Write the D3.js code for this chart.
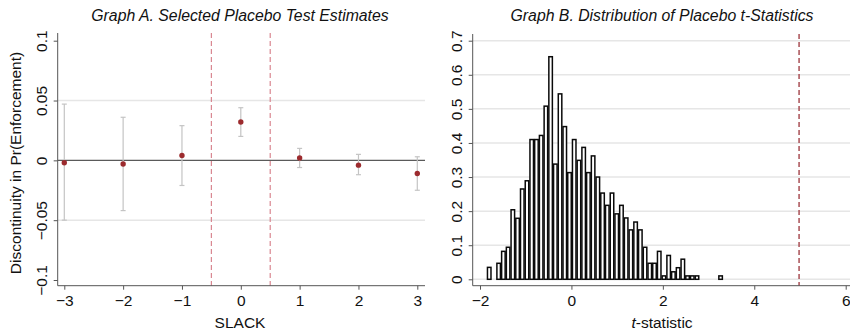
<!DOCTYPE html>
<html><head><meta charset="utf-8">
<script src="https://cdn.jsdelivr.net/npm/d3@7"></script>
<style>
body{margin:0;background:#fff;}
svg{display:block;font-family:"Liberation Sans",Arial,Helvetica,sans-serif;}
</style></head>
<body><svg id="c" width="850" height="331"></svg>
<script>
// ---- Graph A data ----
const slack = [-3, -2, -1, 0, 1, 2, 3];
const estimate = [-0.002, -0.003, 0.004, 0.032, 0.002, -0.004, -0.011];
const ciLow = [-0.050, -0.042, -0.021, 0.020, -0.006, -0.012, -0.025];
const ciHigh = [0.047, 0.036, 0.029, 0.044, 0.010, 0.005, 0.003];
const aXTicks = [-3, -2, -1, 0, 1, 2, 3];
const aYTicks = [-0.1, -0.05, 0, 0.05, 0.1];
const aYTickLabels = ["\u22120.1", "\u22120.05", "0", "0.05", "0.1"];
const aCutoffs = [-0.5, 0.5];

// ---- Graph B data ----
const binStart = -1.85;
const binWidth = 0.1033;
const density = [0.035, 0, 0.047, 0.082, 0.094, 0.204, 0.179, 0.265, 0.289, 0.41, 0.41, 0.422,
  0.508, 0.653, 0.338, 0.544, 0.448, 0.313, 0.41, 0.349, 0.387, 0.313, 0.362, 0.30,
  0.253, 0.217, 0.253, 0.192, 0.217, 0.18, 0.145, 0.168, 0.145, 0.094, 0.047, 0.047,
  0.082, 0.01, 0.07, 0.022, 0.034, 0.059, 0.01, 0.01, 0.01, 0, 0, 0, 0, 0.01];
const bXTicks = [-2, 0, 2, 4, 6];
const bYTicks = [0, 0.1, 0.2, 0.3, 0.4, 0.5, 0.6, 0.7];
const actualT = 4.98;

const fmtMinus = v => String(v).replace("-", "\u2212");
const svg = d3.select("#c");
const FS = 15.5;
const TFS = 15.8;

// ================= Graph A =================
const ax = d3.scaleLinear().domain([-3, 3]).range([64.3, 417.3]);
const ay = d3.scaleLinear().domain([-0.1, 0.1]).range([280, 40.7]);
const gA = svg.append("g");
const aLeft = 57.7, aBottom = 285.7, aTop = 33, aRight = 425;

gA.selectAll(".grid").data([-0.05, 0.05]).join("line")
  .attr("x1", aLeft).attr("x2", aRight).attr("y1", d => ay(d)).attr("y2", d => ay(d))
  .attr("stroke", "#e6e6e6").attr("stroke-width", 1.5);
gA.append("line").attr("x1", aLeft).attr("x2", aRight).attr("y1", ay(0)).attr("y2", ay(0))
  .attr("stroke", "#5a5a5a").attr("stroke-width", 1.2);
gA.selectAll(".cut").data(aCutoffs).join("line")
  .attr("x1", d => ax(d)).attr("x2", d => ax(d)).attr("y1", aTop).attr("y2", aBottom)
  .attr("stroke", "#d98791").attr("stroke-width", 1.2).attr("stroke-dasharray", "5,3");
const eb = gA.selectAll(".eb").data(slack.map((s, i) => ({s, lo: ciLow[i], hi: ciHigh[i], e: estimate[i]}))).join("g");
eb.append("line").attr("x1", d => ax(d.s)).attr("x2", d => ax(d.s))
  .attr("y1", d => ay(d.lo)).attr("y2", d => ay(d.hi)).attr("stroke", "#c4c4c4").attr("stroke-width", 1.2);
eb.append("line").attr("x1", d => ax(d.s) - 2.5).attr("x2", d => ax(d.s) + 2.5)
  .attr("y1", d => ay(d.lo)).attr("y2", d => ay(d.lo)).attr("stroke", "#c4c4c4").attr("stroke-width", 1.2);
eb.append("line").attr("x1", d => ax(d.s) - 2.5).attr("x2", d => ax(d.s) + 2.5)
  .attr("y1", d => ay(d.hi)).attr("y2", d => ay(d.hi)).attr("stroke", "#c4c4c4").attr("stroke-width", 1.2);
eb.append("circle").attr("cx", d => ax(d.s)).attr("cy", d => ay(d.e)).attr("r", 2.7).attr("fill", "#9c2b2e");

const xAxisA = d3.axisBottom(ax).tickValues(aXTicks).tickSize(4).tickPadding(5).tickFormat(fmtMinus);
const gxa = gA.append("g").attr("transform", `translate(0,${aBottom})`).call(xAxisA);
gxa.select(".domain").remove();
gxa.append("line").attr("x1", aLeft).attr("x2", aRight).attr("stroke", "#555");
const yAxisA = d3.axisLeft(ay).tickValues(aYTicks).tickSize(4).tickFormat((d, i) => aYTickLabels[i]);
const gya = gA.append("g").attr("transform", `translate(${aLeft},0)`).call(yAxisA);
gya.select(".domain").remove();
gya.append("line").attr("y1", aTop).attr("y2", aBottom).attr("stroke", "#555");
gya.selectAll(".tick text").attr("x", null).attr("dy", null)
  .attr("transform", "translate(-10.5,0) rotate(-90)").attr("text-anchor", "middle");

// ================= Graph B =================
const bx = d3.scaleLinear().domain([-2, 6]).range([480, 845.7]);
const by = d3.scaleLinear().domain([0, 0.7]).range([279.3, 40.7]);
const gB = svg.append("g");
const bLeft = 472.7, bBottom = 285.7, bTop = 34, bRight = 850;

gB.selectAll(".grid").data(bYTicks).join("line")
  .attr("x1", bLeft).attr("x2", bRight).attr("y1", d => by(d)).attr("y2", d => by(d))
  .attr("stroke", "#e6e6e6").attr("stroke-width", 1.5);

const bins = density.map((h, i) => ({x0: binStart + i * binWidth, x1: binStart + (i + 1) * binWidth, h}))
  .filter(d => d.h > 0);
gB.selectAll(".bar").data(bins).join("rect")
  .attr("x", d => bx(d.x0) + 0.6).attr("width", d => bx(d.x1) - bx(d.x0) - 1.2)
  .attr("y", d => by(d.h)).attr("height", d => by(0) - by(d.h))
  .attr("fill", "#fff").attr("stroke", "#0a0a0a").attr("stroke-width", 1.5);

gB.append("line").attr("x1", bx(actualT)).attr("x2", bx(actualT)).attr("y1", bTop).attr("y2", bBottom)
  .attr("stroke", "#a94f55").attr("stroke-width", 1.5).attr("stroke-dasharray", "5,3");

const xAxisB = d3.axisBottom(bx).tickValues(bXTicks).tickSize(4).tickPadding(5).tickFormat(fmtMinus);
const gxb = gB.append("g").attr("transform", `translate(0,${bBottom})`).call(xAxisB);
gxb.select(".domain").remove();
gxb.append("line").attr("x1", bLeft).attr("x2", bRight).attr("stroke", "#555");
const yAxisB = d3.axisLeft(by).tickValues(bYTicks).tickSize(4).tickFormat(d => String(d));
const gyb = gB.append("g").attr("transform", `translate(${bLeft},0)`).call(yAxisB);
gyb.select(".domain").remove();
gyb.append("line").attr("y1", bTop).attr("y2", bBottom).attr("stroke", "#555");
gyb.selectAll(".tick text").attr("x", null).attr("dy", null)
  .attr("transform", "translate(-10.5,0) rotate(-90)").attr("text-anchor", "middle");

svg.selectAll(".tick line").attr("stroke", "#555");
svg.selectAll(".tick text").attr("font-size", FS).attr("fill", "#111")
  .attr("font-family", "'Liberation Sans',Arial,sans-serif");

svg.append("text").attr("x", 240).attr("y", 20.5).attr("text-anchor", "middle")
  .attr("font-size", TFS).attr("font-style", "italic").attr("fill", "#111")
  .text("Graph A. Selected Placebo Test Estimates");
svg.append("text").attr("x", 662).attr("y", 20.5).attr("text-anchor", "middle")
  .attr("font-size", TFS).attr("font-style", "italic").attr("fill", "#111")
  .text("Graph B. Distribution of Placebo t-Statistics");
svg.append("text").attr("x", 240).attr("y", 327.5).attr("text-anchor", "middle")
  .attr("font-size", FS).attr("fill", "#111").text("SLACK");
const tt = svg.append("text").attr("x", 662).attr("y", 327.5).attr("text-anchor", "middle")
  .attr("font-size", FS).attr("fill", "#111");
tt.append("tspan").attr("font-style", "italic").text("t");
tt.append("tspan").text("-statistic");
svg.append("text").attr("transform", "translate(21,163) rotate(-90)").attr("text-anchor", "middle")
  .attr("font-size", FS).attr("fill", "#111").text("Discontinuity in Pr(Enforcement)");
</script></body></html>
